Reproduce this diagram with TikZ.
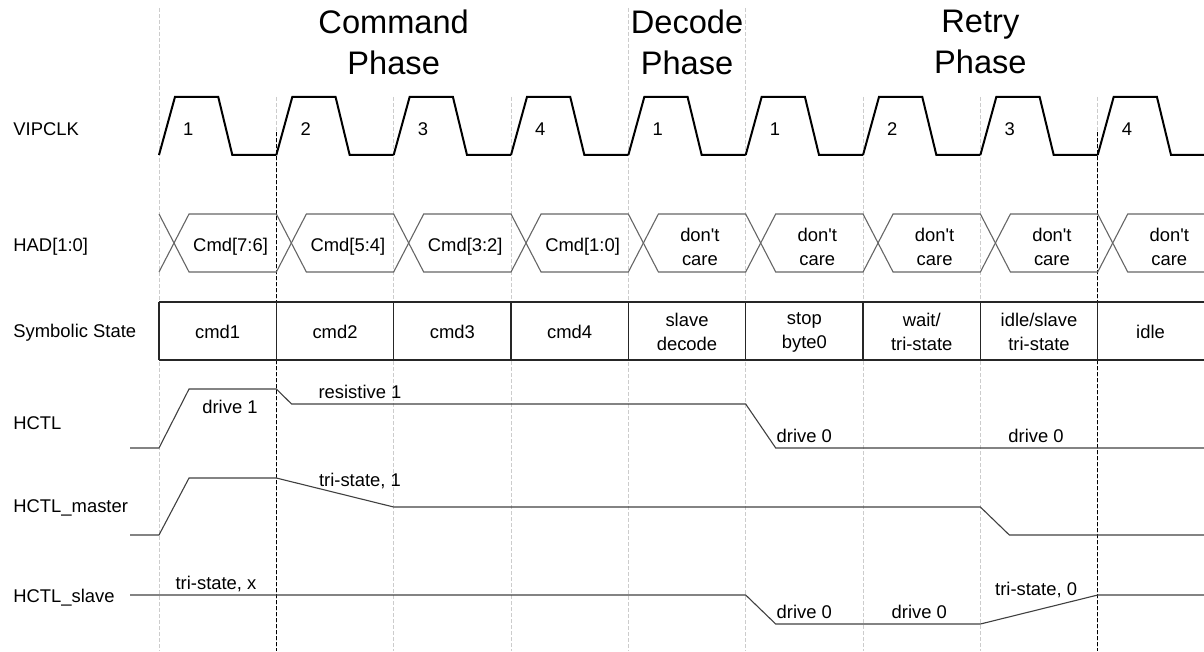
\documentclass[tikz,border=0pt]{standalone}
\usepackage{fontspec}
\setmainfont{Liberation Sans}
\usepackage{tikz}
\usepackage{xcolor}

\begin{document}
\begin{tikzpicture}[x=58.667pt, y=-0.5pt,
    every node/.style={font=\fontsize{9.2}{12}\selectfont, inner sep=0pt, align=center},
    phase/.style={font=\fontsize{16.3}{20.5}\selectfont},
    clk/.style={line width=1pt, black},
    bus/.style={line width=0.55pt, black!60},
    statebox/.style={line width=0.6pt, black!85},
    sig/.style={line width=0.55pt, black!75},
    guide/.style={line width=0.4pt, gray!40, dash pattern=on 2pt off 1pt},
    cyclemark/.style={line width=0.5pt, black, dash pattern=on 2pt off 1pt}]

    \useasboundingbox (-1.355,0) rectangle (8.906,651);

    % guide lines
    \foreach \k in {0,4,5} \draw[guide] (\k,8) -- (\k,651);
    \foreach \k in {1,2,3,6,7,8} \draw[guide] (\k,97) -- (\k,651);
    \foreach \k in {1,8} \draw[cyclemark] (\k,132) -- (\k,651);

    % phases
    \node[phase] (pcmd) at (2,42) {Command\\Phase};
    \node[phase] (pdec) at (4.5,42) {Decode\\Phase};
    \node[phase] (pret) at (7,42) {Retry\\Phase};

    % row names
    \node[anchor=west] (nclk) at (-1.244,129) {VIPCLK};
    \node[anchor=west] (nhad) at (-1.244,247) {HAD[1:0]};
    \node[anchor=west] (nsym) at (-1.244,333) {Symbolic State};
    \node[anchor=west] (nhctl) at (-1.244,423) {HCTL};
    \node[anchor=west] (nmst) at (-1.244,508) {HCTL\_master};
    \node[anchor=west] (nslv) at (-1.244,598) {HCTL\_slave};

    % VIPCLK
    \foreach \k in {0,...,8}
      \draw[clk] (\k,155) -- (\k+0.136,97) -- (\k+0.505,97) -- (\k+0.625,155) -- (\k+1,155);
    \node (c0) at (0.25,129) {1};
    \node (c1) at (1.25,129) {2};
    \node (c2) at (2.25,129) {3};
    \node (c3) at (3.25,129) {4};
    \node (c4) at (4.25,129) {1};
    \node (c5) at (5.25,129) {1};
    \node (c6) at (6.25,129) {2};
    \node (c7) at (7.25,129) {3};
    \node (c8) at (8.25,129) {4};

    % HAD[1:0]
    \draw[bus] (0,214) -- (0.128,243) -- (0,272);
    \foreach \k in {0,...,8}
      \draw[bus] (\k+0.128,243) -- (\k+0.256,214) -- (\k+1,214) -- (\k+1.128,243)
                 -- (\k+1,272) -- (\k+0.256,272) -- cycle;
    \node (h0) at (0.61,247) {Cmd[7:6]};
    \node (h1) at (1.61,247) {Cmd[5:4]};
    \node (h2) at (2.61,247) {Cmd[3:2]};
    \node (h3) at (3.61,247) {Cmd[1:0]};
    \node (h4) at (4.61,247) {don\textquotesingle t\\care};
    \node (h5) at (5.61,247) {don\textquotesingle t\\care};
    \node (h6) at (6.61,247) {don\textquotesingle t\\care};
    \node (h7) at (7.61,247) {don\textquotesingle t\\care};
    \node (h8) at (8.61,247) {don\textquotesingle t\\care};

    % Symbolic State
    \draw[statebox] (0,302) -- (8.906,302) (0,360) -- (8.906,360);
    \foreach \k in {0,...,8} \draw[statebox] (\k,302) -- (\k,360);
    \node (s0) at (0.5,332) {cmd1};
    \node (s1) at (1.5,332) {cmd2};
    \node (s2) at (2.5,332) {cmd3};
    \node (s3) at (3.5,332) {cmd4};
    \node (s4) at (4.5,332) {slave\\decode};
    \node (s5) at (5.5,332) {stop\\byte0};
    \node (s6) at (6.5,332) {wait/\\tri-state};
    \node (s7) at (7.5,332) {idle/slave\\tri-state};
    \node (s8) at (8.45,332) {idle};

    % HCTL
    \draw[sig] (-0.247,448) -- (0,448) -- (0.256,389) -- (1,389) -- (1.13,404)
               -- (5,404) -- (5.256,448) -- (8.906,448);
    \node (d1) at (0.605,407) {drive 1};
    \node (r1) at (1.713,392) {resistive 1};
    \node (d0a) at (5.5,436) {drive 0};
    \node (d0b) at (7.475,436) {drive 0};

    % HCTL_master
    \draw[sig] (-0.247,535) -- (0,535) -- (0.256,478) -- (1,478) -- (2,507)
               -- (7,507) -- (7.247,535) -- (8.906,535);
    \node (t1) at (1.713,481) {tri-state, 1};

    % HCTL_slave
    \draw[sig] (-0.247,595) -- (5,595) -- (5.256,624) -- (7,624) -- (8,595) -- (8.906,595);
    \node (tx) at (0.486,584) {tri-state, x};
    \node (d0c) at (5.5,612) {drive 0};
    \node (d0d) at (6.48,612) {drive 0};
    \node (t0) at (7.475,590) {tri-state, 0};
\end{tikzpicture}
\end{document}
